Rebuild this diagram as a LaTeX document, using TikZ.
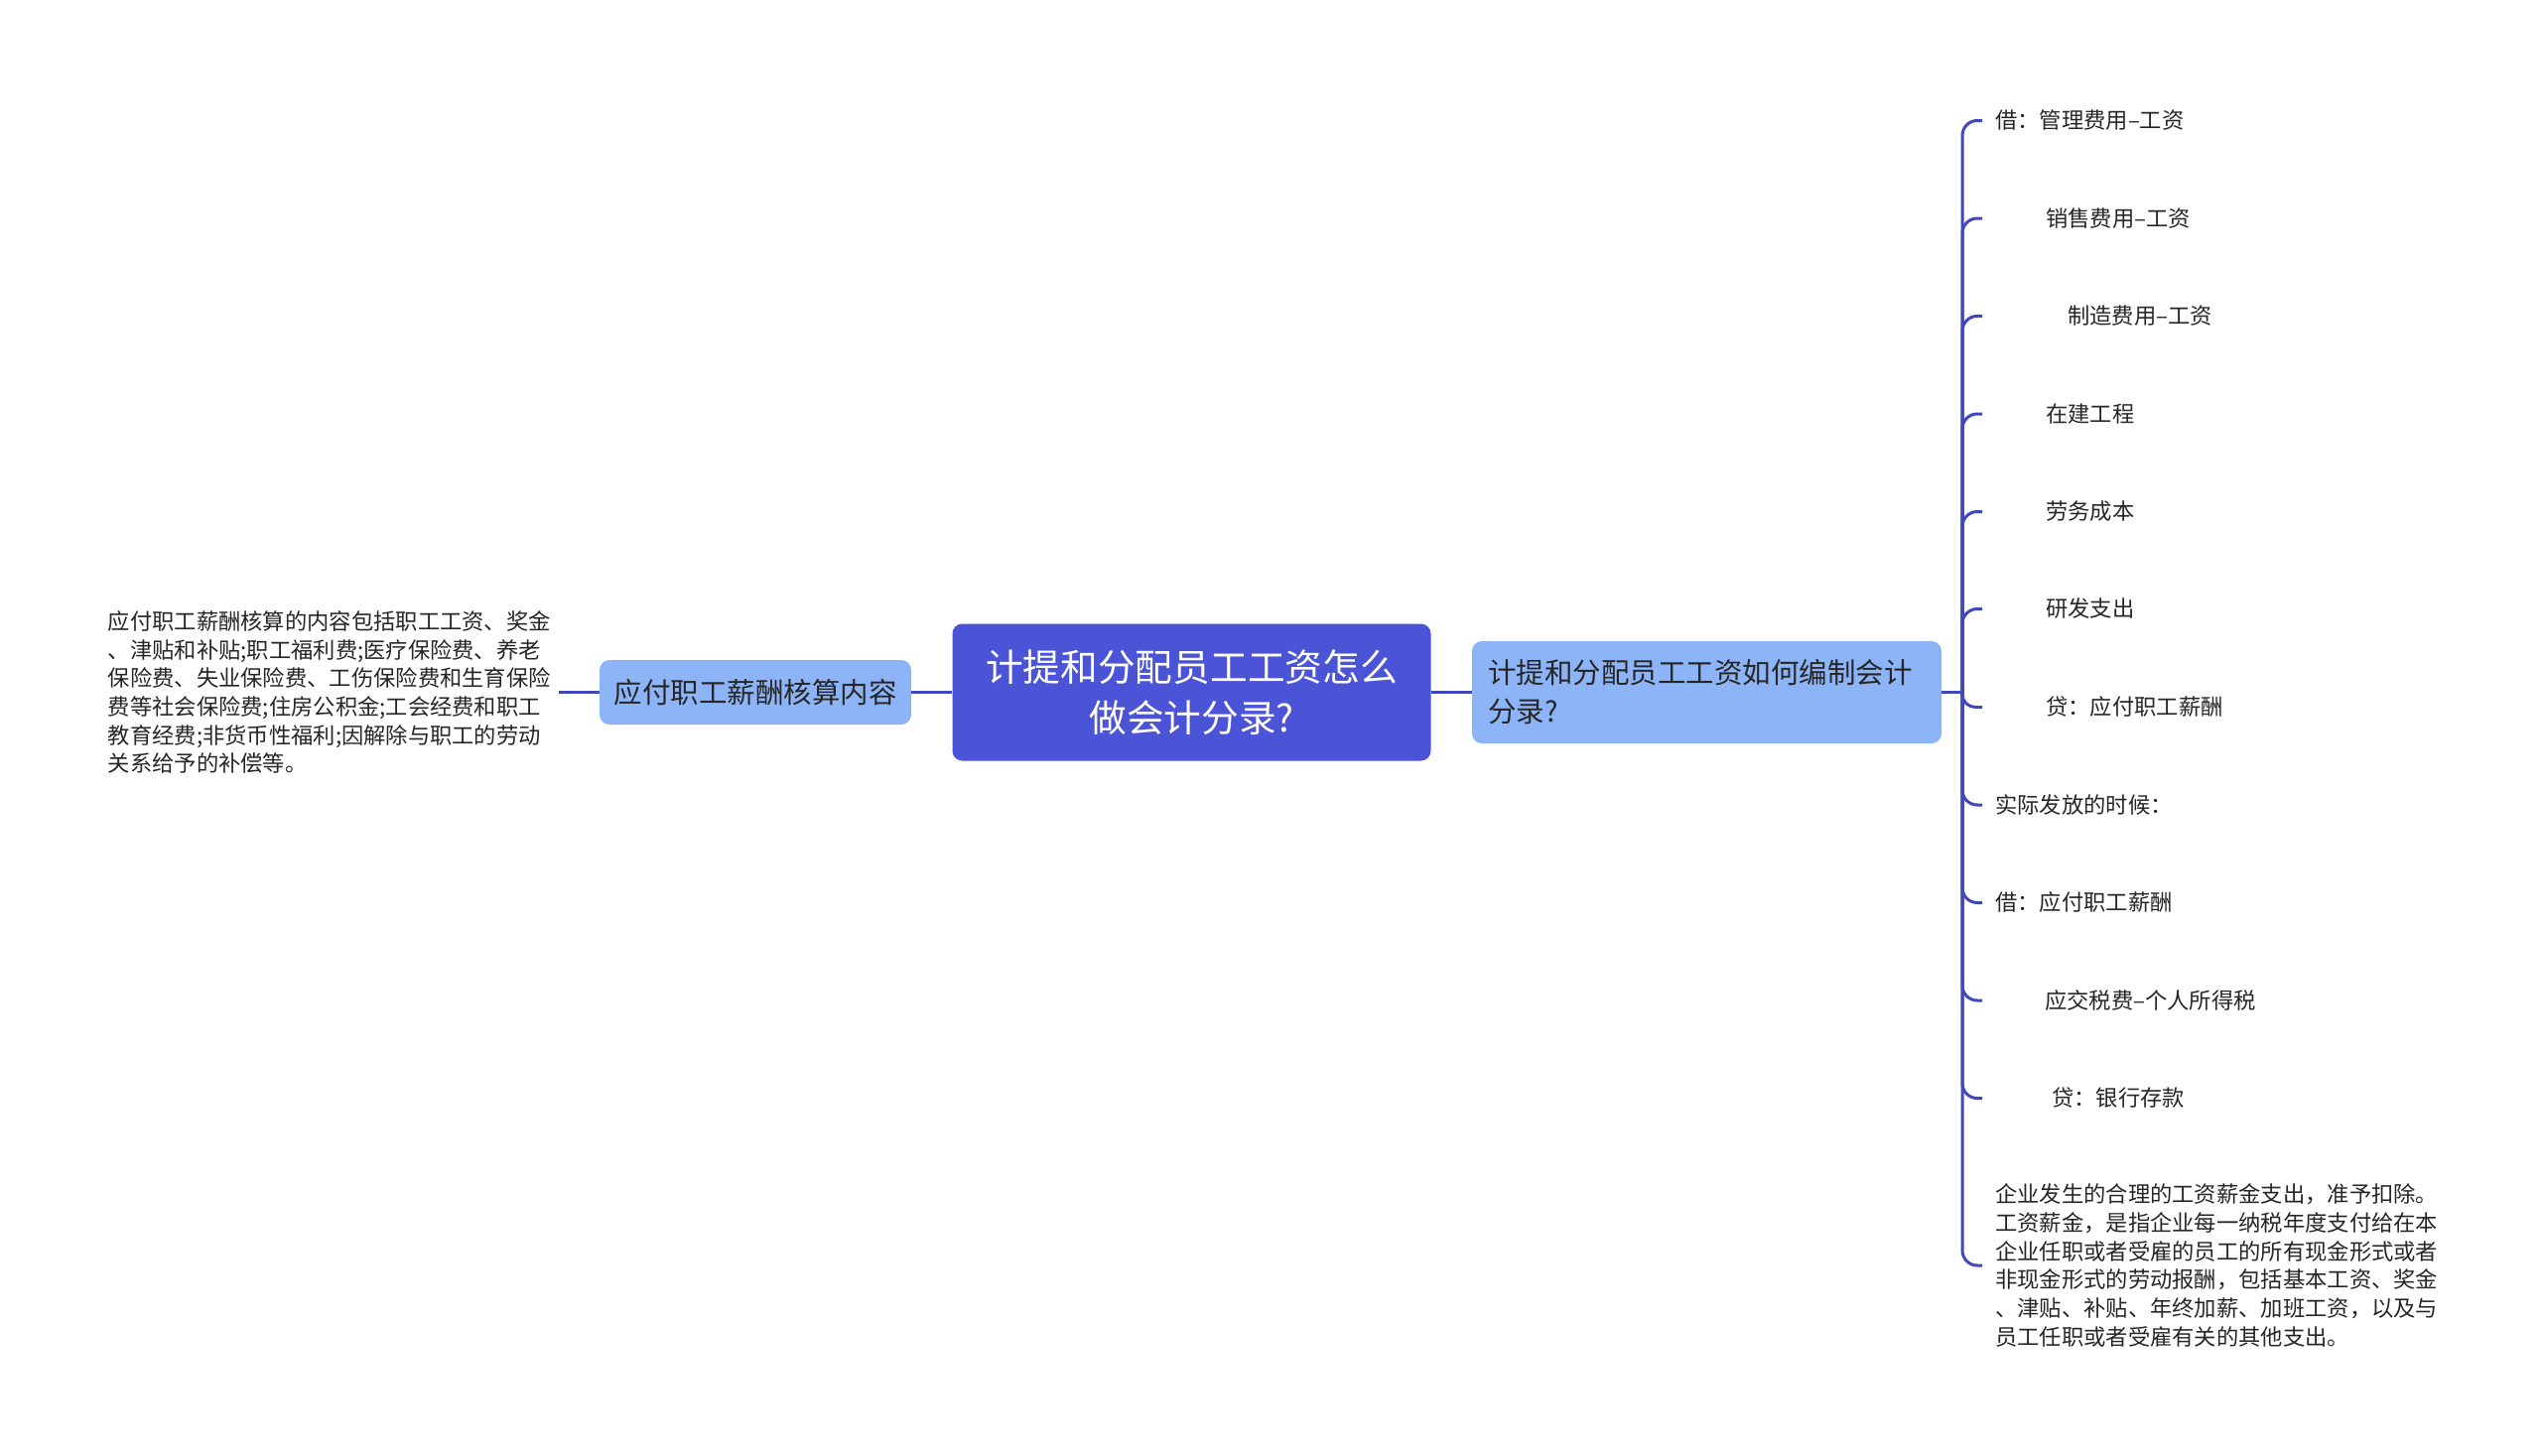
\documentclass[tikz,border=0pt]{standalone}
\usepackage{fontspec}
\setmainfont{Noto Sans CJK SC}
\definecolor{rootc}{HTML}{4B53D7}
\definecolor{subc}{HTML}{8DB4F7}
\definecolor{linec}{HTML}{4048BE}
\definecolor{textc}{HTML}{262626}
\tikzset{
  conn/.style={draw=linec, line width=3pt},
  rootbox/.style={fill=rootc, rounded corners=10pt, text=white, minimum width=482pt, minimum height=138pt, inner sep=0pt, font=\fontsize{37.7}{50.6}\selectfont, align=center},
  subbox/.style={fill=subc, rounded corners=10pt, text=textc, font=\fontsize{28.5}{39}\selectfont, inner sep=0pt},
  leaf/.style={anchor=west, inner xsep=13pt, inner ysep=2pt, font=\fontsize{22.3}{28.7}\selectfont, text=textc, align=left},
}
\begin{document}
\begin{tikzpicture}[x=1pt,y=-1pt]
\useasboundingbox (0,0) rectangle (2560,1467);
\fill[white] (0,0) rectangle (2560,1467);

\node[rootbox] (root) at (1200.5,697.5) {计提和分配员工工资怎么\\做会计分录?};
\node[subbox, minimum width=473pt, minimum height=103pt, text width=441pt, align=left] (rnode) at (1719.5,697.5) {计提和分配员工工资如何编制会计\\分录?};
\node[subbox, minimum width=314pt, minimum height=65pt, align=center] (lnode) at (761,697.5) {应付职工薪酬核算内容};
\node[leaf, anchor=east, inner xsep=8pt] (ltext) at (563,697.5) {应付职工薪酬核算的内容包括职工工资、奖金\\、津贴和补贴;职工福利费;医疗保险费、养老\\保险费、失业保险费、工伤保险费和生育保险\\费等社会保险费;住房公积金;工会经费和职工\\教育经费;非货币性福利;因解除与职工的劳动\\关系给予的补偿等。};

\draw[conn] (root.west) -- (lnode.east);
\draw[conn] (lnode.west) -- (ltext.east);
\draw[conn] (root.east) -- (rnode.east -| rnode.west);
\draw[conn] (rnode.east) -- (1977,697.5) coordinate (j);

\node[leaf] (c1) at (1997,121.5) {借：管理费用–工资};
\node[leaf] (c2) at (1997,220) {\hspace*{51pt}销售费用–工资};
\node[leaf] (c3) at (1997,318.5) {\hspace*{73pt}制造费用–工资};
\node[leaf] (c4) at (1997,417) {\hspace*{51pt}在建工程};
\node[leaf] (c5) at (1997,515.5) {\hspace*{51pt}劳务成本};
\node[leaf] (c6) at (1997,613.5) {\hspace*{51pt}研发支出};
\node[leaf] (c7) at (1997,712.5) {\hspace*{51pt}贷：应付职工薪酬};
\node[leaf] (c8) at (1997,811) {实际发放的时候：};
\node[leaf] (c9) at (1997,909.5) {借：应付职工薪酬};
\node[leaf] (c10) at (1997,1008) {\hspace*{50pt}应交税费–个人所得税};
\node[leaf] (c11) at (1997,1106.5) {\hspace*{57pt}贷：银行存款};
\node[leaf] (c12) at (1997,1275) {企业发生的合理的工资薪金支出，准予扣除。\\工资薪金，是指企业每一纳税年度支付给在本\\企业任职或者受雇的员工的所有现金形式或者\\非现金形式的劳动报酬，包括基本工资、奖金\\、津贴、补贴、年终加薪、加班工资，以及与\\员工任职或者受雇有关的其他支出。};

\foreach \c in {c1,c2,c3,c4,c5,c6,c8,c9,c10,c11,c12}
  \draw[conn, rounded corners=15pt] (j) |- (\c.west);
\draw[conn, rounded corners=13pt] (j) |- (c7.west);
\end{tikzpicture}
\end{document}
